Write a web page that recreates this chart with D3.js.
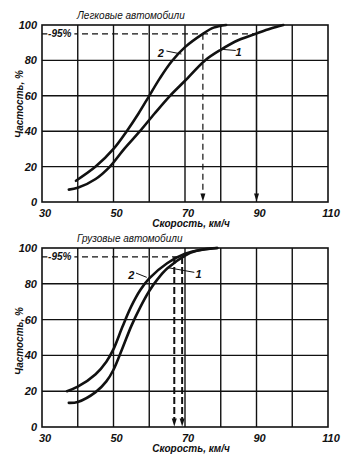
<!DOCTYPE html>
<html><head><meta charset="utf-8">
<script src="https://cdn.jsdelivr.net/npm/d3@7"></script>
<style>
html,body{margin:0;padding:0;background:#fff;}
svg text{font-family:"Liberation Sans Narrow","Liberation Sans",sans-serif;font-style:italic;fill:#111;}
</style></head>
<body><svg id="c" width="342" height="463"></svg>
<script>
// ---- data ----
const xTickLabels = [30, 50, 70, 90, 110];
const xGrid = [40, 50, 60, 70, 80, 90, 100];
const yTickLabels = [0, 20, 40, 60, 80, 100];

const carsTitle = "Легковые автомобили";
const trucksTitle = "Грузовые автомобили";
const xLabelTop = "Скорость, км/ч";
const xLabelBottom = "Скорость, км/ч";
const yLabel = "Частость, %";
const level95 = 95;
const label95 = "-95%";

// passenger cars: curve 1 and curve 2  [speed km/h, cumulative %]
const cars1 = [[37.5,7],[40,8],[45,13],[49,20],[53,30],[57.4,40],[61.5,50],[65.8,60],[70,68.5],[75.6,80],[80,86],[85,91.5],[90,95.2],[94,98],[97.5,100]];
const cars2 = [[39.5,12],[45,20],[50,30],[53.7,40],[57,50],[60,60],[63,70],[66.3,79.5],[70,87.5],[75,95],[78,98.5],[81.5,100]];
const carsArrows = [75, 90];          // 95% speeds
const carsArrowStyle = ["dash", "solid"];

// trucks
const trucks1 = [[37.5,13.5],[40,14],[45,19.5],[48,25.5],[50,32],[52.5,44],[55,56.5],[57.5,67],[60,76],[62.5,83],[65,88.5],[70,95.8],[73,98.3],[79,100]];
const trucks2 = [[37,20],[40,22.5],[45,29.5],[48,36.5],[50,43.5],[52.5,56],[55,67.5],[57.5,76.5],[60,83],[65,91.5],[70,96.8],[75,99.2],[79,100]];
const trucksArrows = [67, 69.2];
const trucksArrowStyle = ["dash", "dash"];

// curve labels: [label, textX, textY, leaderFrom(x,y), leaderTo(x,y)] in data units
const carsLabels = [
  ["2", 63.2, 84.0, [64.8,85.3], [69.0,83.6]],
  ["1", 85.0, 85.0, [80.6,86.2], [84.2,85.6]]
];
const trucksLabels = [
  ["2", 55.0, 84.8, [56.3,86.0], [59.3,83.6]],
  ["1", 73.8, 85.2, [65.3,89.0], [72.6,86.4]]
];

const svg = d3.select("#c");
const x = d3.scaleLinear().domain([30,110]).range([42,328]);

function panel(cfg){
  const y = d3.scaleLinear().domain([0,100]).range([cfg.bottom, cfg.top]);
  const g = svg.append("g");
  // gridlines
  g.selectAll(".vg").data(xGrid).join("line")
    .attr("x1", d=>x(d)).attr("x2", d=>x(d)).attr("y1", y(0)).attr("y2", y(100))
    .attr("stroke","#111").attr("stroke-width",1.4);
  g.selectAll(".hg").data(yTickLabels.filter(d=>d>0 && d<100)).join("line")
    .attr("x1", x(30)).attr("x2", x(110)).attr("y1", d=>y(d)).attr("y2", d=>y(d))
    .attr("stroke","#111").attr("stroke-width",1.4);
  // frame
  g.append("rect").attr("x", x(30)).attr("y", y(100)).attr("width", x(110)-x(30)).attr("height", y(0)-y(100))
    .attr("fill","none").attr("stroke","#111").attr("stroke-width",1.6);

  // 95% dashed line
  g.append("line").attr("x1", x(30)).attr("x2", x(cfg.hEnd)).attr("y1", y(level95)).attr("y2", y(level95))
    .attr("stroke","#111").attr("stroke-width",1.2).attr("stroke-dasharray","6,4");
  g.append("rect").attr("x", x(31.5)).attr("y", y(level95)-5).attr("width", 27).attr("height", 10).attr("fill","#fff");
  g.append("text").attr("x", x(31.7)).attr("y", y(level95)+3.5).attr("font-size",10).attr("font-weight","bold").text(label95);

  // arrows
  cfg.arrows.forEach((v,i)=>{
    const dashed = cfg.arrowStyle[i]==="dash";
    g.append("line").attr("x1", x(v)).attr("x2", x(v)).attr("y1", y(level95)).attr("y2", y(0)-6)
      .attr("stroke","#111").attr("stroke-width", cfg.arrowW)
      .attr("stroke-dasharray", dashed ? cfg.arrowDash : null);
    const tip = [x(v), y(0)-0.5];
    g.append("path").attr("d", `M${tip[0]-2.5},${tip[1]-8}L${tip[0]+2.5},${tip[1]-8}L${tip[0]},${tip[1]}Z`)
      .attr("fill","#111");
  });

  // curves
  const line = d3.line().x(d=>x(d[0])).y(d=>y(d[1])).curve(d3.curveCatmullRom.alpha(0.5));
  [cfg.c1, cfg.c2].forEach(c=>{
    g.append("path").attr("d", line(c)).attr("fill","none").attr("stroke","#111")
      .attr("stroke-width",2.6).attr("stroke-linecap","round");
  });

  // curve labels
  cfg.labels.forEach(l=>{
    g.append("line").attr("x1", x(l[3][0])).attr("y1", y(l[3][1])).attr("x2", x(l[4][0])).attr("y2", y(l[4][1]))
      .attr("stroke","#111").attr("stroke-width",1);
    g.append("text").attr("x", x(l[1])).attr("y", y(l[2])+4).attr("text-anchor","middle")
      .attr("font-size",11).attr("font-weight","bold").text(l[0]);
  });

  // axes labels
  g.selectAll(".xt").data(xTickLabels).join("text")
    .attr("x", d=>x(d)+3).attr("y", y(0)+15).attr("text-anchor","middle")
    .attr("font-size",11).attr("font-weight","bold").text(d=>d);
  g.selectAll(".yt").data(yTickLabels).join("text")
    .attr("x", 37).attr("y", d=>y(d)+4).attr("text-anchor","end")
    .attr("font-size",11).attr("font-weight","bold").text(d=>d);
  g.append("text").attr("x", 191).attr("y", y(0)+25).attr("text-anchor","middle")
    .attr("font-size",10).attr("font-weight","bold").text(cfg.xLabel);
  g.append("text").attr("transform", `translate(23,${cfg.ylabY}) rotate(-90)`).attr("text-anchor","middle")
    .attr("font-size",10).attr("font-weight","bold").text(yLabel);
  g.append("text").attr("x", 77).attr("y", y(100)-6).attr("font-size",10).text(cfg.title);
}

panel({top:25, bottom:202, c1:cars1, c2:cars2, arrows:carsArrows, arrowStyle:carsArrowStyle, arrowW:1.2, arrowDash:"6,4",
  hEnd:90, labels:carsLabels, title:carsTitle, xLabel:xLabelTop, ylabY:104});
panel({top:248, bottom:427, c1:trucks1, c2:trucks2, arrows:trucksArrows, arrowStyle:trucksArrowStyle, arrowW:2, arrowDash:"7,3",
  hEnd:70, labels:trucksLabels, title:trucksTitle, xLabel:xLabelBottom, ylabY:341});
</script></body></html>
